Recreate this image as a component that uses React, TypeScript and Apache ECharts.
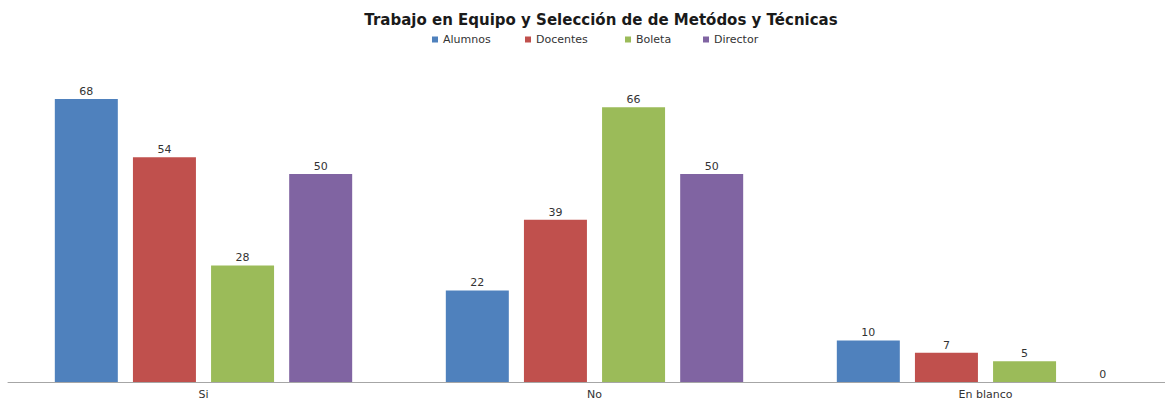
import React, { useEffect, useRef } from "react";
import * as echarts from "echarts";

const categories = ["Si", "No", "En blanco"];
const seriesNames = ["Alumnos", "Docentes", "Boleta", "Director"];
const alumnos = [68, 22, 10];
const docentes = [54, 39, 7];
const boleta = [28, 66, 5];
const director = [50, 50, 0];
const colors = ["#4F81BD", "#C0504D", "#9BBB59", "#8064A2"];
const legendLefts = [427, 520, 620, 698];

export default function App() {
  const ref = useRef<HTMLDivElement>(null);
  useEffect(() => {
    if (!ref.current) return;
    const chart = echarts.init(ref.current, undefined, { renderer: "svg" });
    const values = [alumnos, docentes, boleta, director];
    chart.setOption({
      animation: false,
      backgroundColor: "#ffffff",
      title: {
        text: "Trabajo en Equipo y Selección de de Metódos y Técnicas",
        left: 596,
        textAlign: "center",
        top: 7,
        textStyle: { fontFamily: "DejaVu Sans", fontWeight: "bold", fontSize: 15, color: "#1a1a1a" },
      },
      legend: seriesNames.map((name, i) => ({
        top: 29,
        left: legendLefts[i],
        itemWidth: 6,
        itemHeight: 6,
        itemGap: 6,
        icon: "rect",
        textStyle: { fontFamily: "DejaVu Sans", fontSize: 11, color: "#333", padding: [0, 0, 0, 0] },
        data: [name],
      })),
      grid: { left: 8, right: 0, top: 49, bottom: 17, containLabel: false },
      xAxis: {
        type: "category",
        data: categories,
        axisLine: { lineStyle: { color: "#a6a6a6", width: 1 } },
        axisTick: { show: false },
        axisLabel: { fontFamily: "DejaVu Sans", fontSize: 11, color: "#333", margin: 7 },
      },
      yAxis: {
        type: "value",
        min: 0,
        max: 80,
        show: false,
        splitLine: { show: false },
      },
      series: seriesNames.map((name, i) => ({
        name,
        type: "bar",
        data: values[i],
        barWidth: 63,
        barGap: "24%",
        itemStyle: { color: colors[i] },
        label: {
          show: true,
          position: "top",
          distance: 2,
          fontFamily: "DejaVu Sans",
          fontSize: 11,
          color: "#333",
        },
      })),
    });
    return () => chart.dispose();
  }, []);
  return (
    <div style={{ position: "fixed", left: 0, top: 0, width: 1165, height: 400, overflow: "hidden", background: "#fff" }}>
      <div ref={ref} style={{ width: 1181, height: 400 }} />
    </div>
  );
}
